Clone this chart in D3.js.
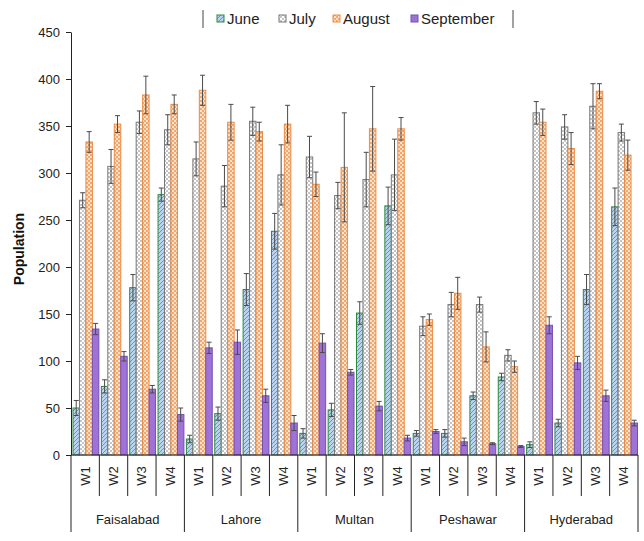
<!DOCTYPE html>
<html>
<head>
<meta charset="utf-8">
<script src="https://cdn.jsdelivr.net/npm/d3@7"></script>
<style>
  html, body { margin: 0; padding: 0; background: #fff; }
  svg { display: block; font-family: "Liberation Sans", Arial, sans-serif; }
</style>
</head>
<body>
<svg id="chart" width="644" height="541"></svg>
<script>
// Cities, weeks and months on the grouped axis
const cities = ["Faisalabad", "Lahore", "Multan", "Peshawar", "Hyderabad"];
const weeks = ["W1", "W2", "W3", "W4"];
const months = ["June", "July", "August", "September"];
const yTicks = [0, 50, 100, 150, 200, 250, 300, 350, 400, 450];

// Mean population per city/week (city-major order: Faisalabad W1..W4, Lahore W1..W4, ...)
const juneValues = [50, 73, 178, 277, 17, 44, 176, 238, 23, 48, 151, 265, 23, 23, 63, 83, 11, 34, 176, 264];
const julyValues = [271, 307, 354, 346, 315, 286, 355, 298, 317, 276, 293, 298, 137, 160, 160, 106, 364, 349, 371, 343];
const augustValues = [333, 352, 383, 373, 388, 354, 344, 352, 288, 306, 347, 347, 144, 172, 115, 94, 354, 326, 387, 319];
const septemberValues = [134, 105, 70, 43, 114, 120, 63, 34, 119, 88, 52, 18, 25, 14, 12, 9, 138, 98, 63, 34];

// Standard error per bar, same order
const juneErr = [8, 7, 14, 7, 4, 7, 17, 19, 5, 7, 12, 20, 3, 4, 4, 4, 3, 4, 16, 20];
const julyErr = [8, 18, 12, 16, 18, 22, 15, 32, 22, 14, 29, 38, 10, 13, 8, 6, 12, 13, 24, 9];
const augustErr = [11, 9, 20, 10, 16, 19, 10, 20, 13, 58, 45, 12, 6, 17, 16, 6, 14, 17, 8, 16];
const septemberErr = [6, 5, 4, 7, 6, 13, 7, 8, 10, 3, 5, 3, 2, 4, 1, 1, 9, 7, 6, 3];

const seriesValues = [juneValues, julyValues, augustValues, septemberValues];
const seriesErr = [juneErr, julyErr, augustErr, septemberErr];

const rows = [];
cities.forEach((c, ci) => weeks.forEach((w, wi) => months.forEach((m, mi) => {
  const k = ci * weeks.length + wi;
  rows.push({ city: c, week: w, month: m, value: seriesValues[mi][k], err: seriesErr[mi][k] });
})));

const svg = d3.select("#chart");
const plotLeft = 71, plotRight = 638, plotTop = 32, plotBottom = 455;

const x0 = d3.scaleBand().domain(cities).range([plotLeft, plotRight]).padding(0);
const x1 = d3.scaleBand().domain(weeks).range([0, x0.bandwidth()]).padding(0);
const x2 = d3.scaleBand().domain(months).range([2, x1.bandwidth() - 0.5]).padding(0);
const y = d3.scaleLinear().domain([0, 450]).range([plotBottom, plotTop]);

// Fill patterns for each month
const defs = svg.append("defs");
const pJune = defs.append("pattern").attr("id", "p-june").attr("patternUnits", "userSpaceOnUse")
  .attr("width", 4).attr("height", 4);
pJune.append("rect").attr("width", 4).attr("height", 4).attr("fill", "#b9d3f0");
pJune.append("path").attr("d", "M-1,1 l2,-2 M0,4 l4,-4 M3,5 l2,-2")
  .attr("stroke", "#6aa08a").attr("stroke-width", 1);

const pJuly = defs.append("pattern").attr("id", "p-july").attr("patternUnits", "userSpaceOnUse")
  .attr("width", 4).attr("height", 4);
pJuly.append("rect").attr("width", 4).attr("height", 4).attr("fill", "#ffffff");
pJuly.append("rect").attr("width", 2).attr("height", 2).attr("fill", "#c4c4c4");
pJuly.append("rect").attr("x", 2).attr("y", 2).attr("width", 2).attr("height", 2).attr("fill", "#c4c4c4");

const pAug = defs.append("pattern").attr("id", "p-aug").attr("patternUnits", "userSpaceOnUse")
  .attr("width", 4).attr("height", 4);
pAug.append("rect").attr("width", 4).attr("height", 4).attr("fill", "#fde3cc");
pAug.append("rect").attr("width", 2).attr("height", 2).attr("fill", "#f5a66a");
pAug.append("rect").attr("x", 2).attr("y", 2).attr("width", 2).attr("height", 2).attr("fill", "#f5a66a");

const fills = { June: "url(#p-june)", July: "url(#p-july)", August: "url(#p-aug)", September: "#9f72d8" };
const strokes = { June: "#2a8a3e", July: "#777777", August: "#ec8a45", September: "#7450b0" };

// Bars
const barX = d => x0(d.city) + x1(d.week) + x2(d.month);
svg.append("g").selectAll("rect").data(rows).join("rect")
  .attr("x", d => barX(d))
  .attr("y", d => y(d.value))
  .attr("width", x2.bandwidth())
  .attr("height", d => y(0) - y(d.value))
  .attr("fill", d => fills[d.month])
  .attr("stroke", d => strokes[d.month])
  .attr("stroke-width", 1);

// Error bars
const eb = svg.append("g").attr("stroke", "#4a4a4a").attr("stroke-width", 1).attr("fill", "none");
rows.forEach(d => {
  const cx = barX(d) + x2.bandwidth() / 2;
  const y1 = y(d.value + d.err), y2 = y(Math.max(0, d.value - d.err));
  eb.append("line").attr("x1", cx).attr("x2", cx).attr("y1", y1).attr("y2", y2);
  eb.append("line").attr("x1", cx - 2.5).attr("x2", cx + 2.5).attr("y1", y1).attr("y2", y1);
  eb.append("line").attr("x1", cx - 2.5).attr("x2", cx + 2.5).attr("y1", y2).attr("y2", y2);
});

// Y axis
const yAxis = svg.append("g").attr("transform", `translate(${plotLeft},0)`)
  .call(d3.axisLeft(y).tickValues(yTicks).tickSize(5).tickSizeOuter(0).tickPadding(6));
yAxis.select(".domain").attr("stroke", "#222");
yAxis.selectAll(".tick line").attr("stroke", "#222");
yAxis.selectAll("text").attr("font-size", 13).attr("fill", "#222")
  .attr("font-family", "Liberation Sans, Arial, sans-serif");

svg.append("text")
  .attr("transform", "translate(24,249) rotate(-90)")
  .attr("text-anchor", "middle")
  .attr("font-size", 14).attr("font-weight", "bold").attr("fill", "#111")
  .text("Population");

// X axis baseline and multi-level category labels
const ax = svg.append("g").attr("stroke", "#222").attr("stroke-width", 1);
ax.append("line").attr("x1", plotLeft).attr("x2", plotRight).attr("y1", plotBottom).attr("y2", plotBottom);
cities.forEach(c => {
  weeks.forEach((w, wi) => {
    const sx = x0(c) + x1(w);
    if (wi > 0) ax.append("line").attr("x1", sx).attr("x2", sx).attr("y1", plotBottom).attr("y2", 496);
    svg.append("text")
      .attr("transform", `translate(${sx + x1.bandwidth() / 2 + 4.5},476) rotate(-90)`)
      .attr("text-anchor", "middle").attr("font-size", 13).attr("fill", "#222")
      .text(w);
  });
  svg.append("text")
    .attr("x", x0(c) + x0.bandwidth() / 2).attr("y", 524)
    .attr("text-anchor", "middle").attr("font-size", 13).attr("fill", "#222")
    .text(c);
});
cities.concat(["end"]).forEach((c, i) => {
  const sx = i < cities.length ? x0(c) : plotRight;
  ax.append("line").attr("x1", sx).attr("x2", sx).attr("y1", plotBottom).attr("y2", 532);
});

// Legend
const lg = svg.append("g");
lg.append("path").attr("d", "M203,10 V28 M513,10 V28").attr("stroke", "#444").attr("fill", "none");
const legendX = [217, 279, 333, 411];
months.forEach((m, i) => {
  lg.append("rect").attr("x", legendX[i]).attr("y", 15).attr("width", 7).attr("height", 7)
    .attr("fill", fills[m]).attr("stroke", strokes[m]).attr("stroke-width", 1);
  lg.append("text").attr("x", legendX[i] + 10).attr("y", 24)
    .attr("font-size", 15).attr("fill", "#222").text(m);
});
</script>
</body>
</html>
